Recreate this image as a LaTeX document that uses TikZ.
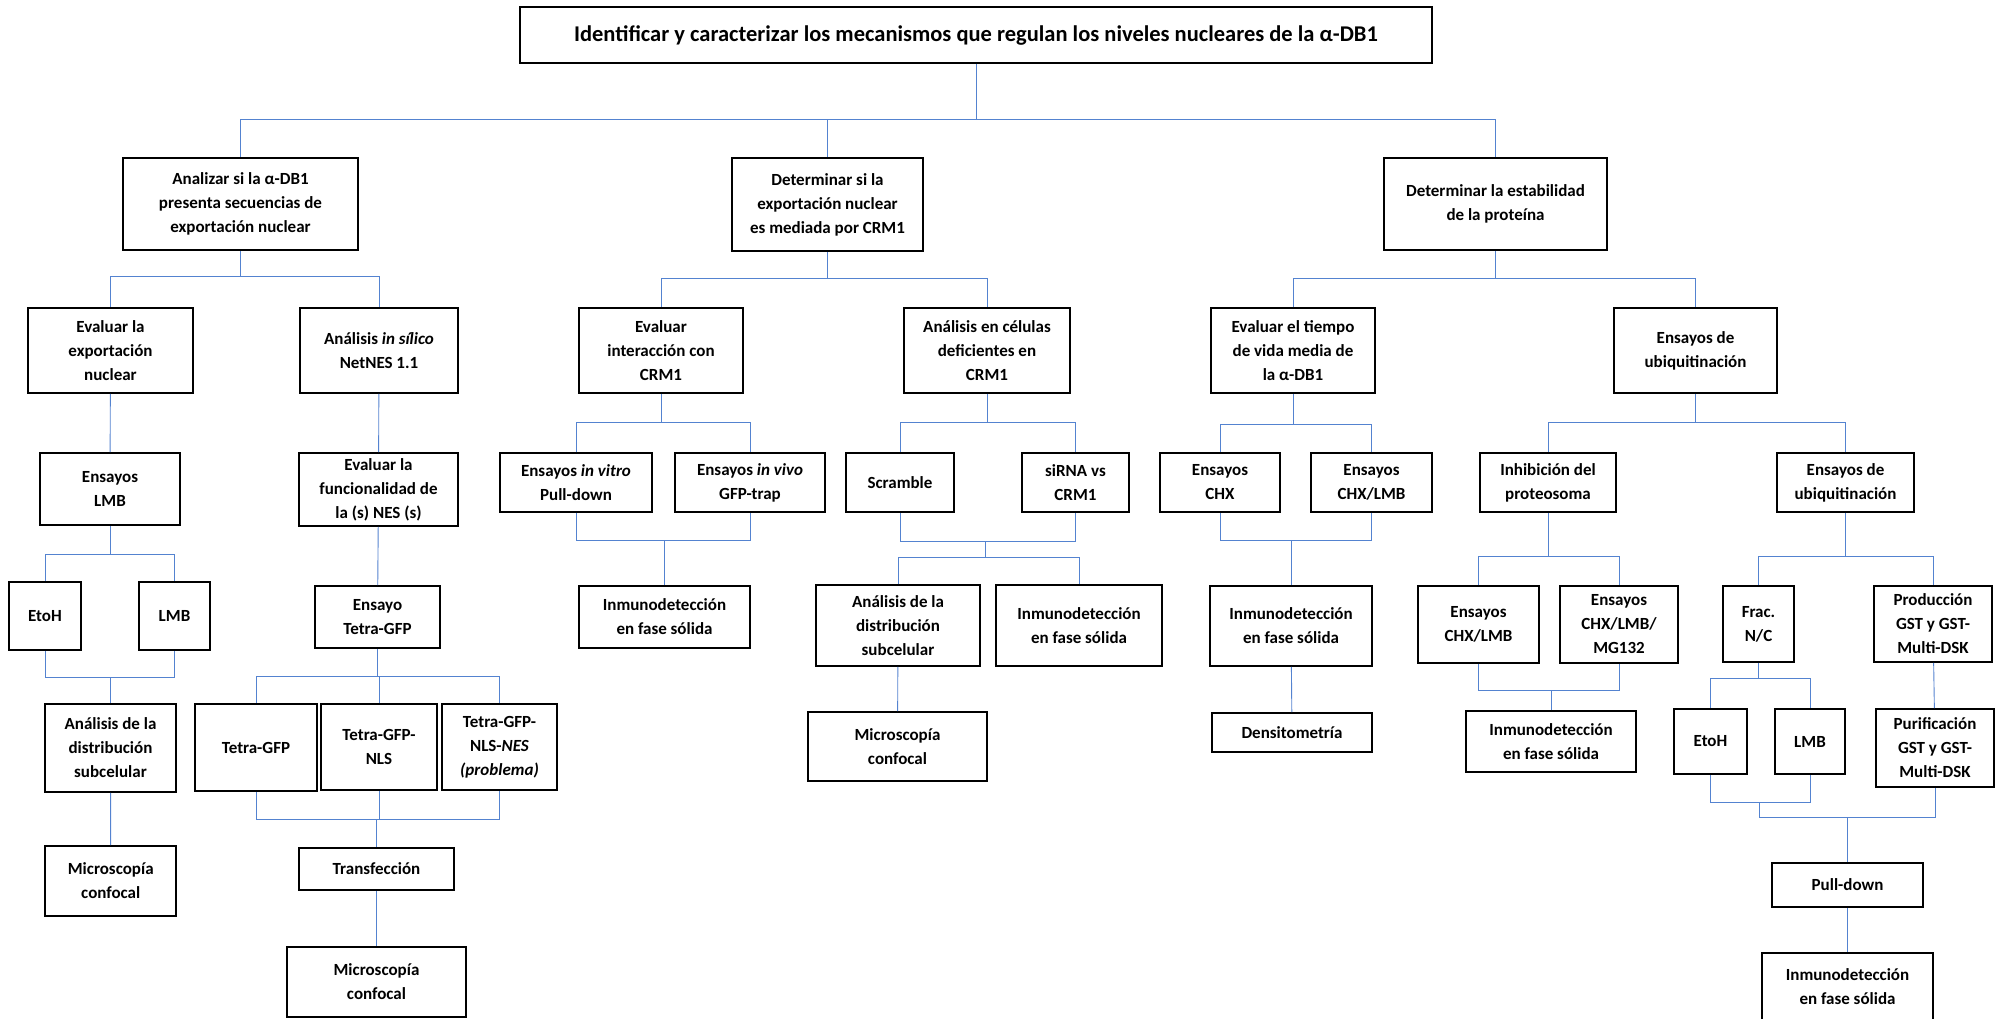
\documentclass[tikz,border=0pt]{standalone}
\usepackage{fontspec}
\setmainfont{Carlito}
\usepackage{tikz}
\usetikzlibrary{calc,positioning}
\definecolor{LineBlue}{RGB}{84,131,208}

\begin{document}
\begin{tikzpicture}[x=1pt,y=-1pt,
  caja/.style={draw=black,line width=1.8pt,fill=white,align=center,inner sep=1pt,font=\fontsize{17}{24}\selectfont\bfseries},
  linea/.style={draw=LineBlue,line width=0.9pt}]
\useasboundingbox (0,0) rectangle (1999,1019);
% objetivo general
\node[caja,minimum width=912,minimum height=56,font=\fontsize{22.5}{26}\selectfont\bfseries] (obj) at (976,35) {Identificar y caracterizar los mecanismos que regulan los niveles nucleares de la α-DB1};
% objetivos especificos
\node[caja,minimum width=235,minimum height=92] (a1) at (240.5,204) {Analizar si la α-DB1\\presenta secuencias de\\exportación nuclear};
\node[caja,minimum width=191,minimum height=93] (a2) at (827.5,204.5) {Determinar si la\\exportación nuclear\\es mediada por CRM1};
\node[caja,minimum width=223,minimum height=92] (a3) at (1495.5,204) {Determinar la estabilidad\\de la proteína};
% segundo nivel
\node[caja,minimum width=165,minimum height=85] (b1) at (110.5,350.5) {Evaluar la\\exportación\\nuclear};
\node[caja,minimum width=158,minimum height=85] (b2) at (379,350.5) {Análisis \textit{in sílico}\\NetNES 1.1};
\node[caja,minimum width=164,minimum height=85] (b3) at (661,350.5) {Evaluar\\interacción con\\CRM1};
\node[caja,minimum width=166,minimum height=85] (b4) at (987,350.5) {Análisis en células\\deficientes en\\CRM1};
\node[caja,minimum width=164,minimum height=85] (b5) at (1293,350.5) {Evaluar el tiempo\\de vida media de\\la α-DB1};
\node[caja,minimum width=163,minimum height=85] (b6) at (1695.5,350.5) {Ensayos de\\ubiquitinación};
% ensayos
\node[caja,minimum width=140,minimum height=72] (c1) at (110,489) {Ensayos\\LMB};
\node[caja,minimum width=159,minimum height=73] (c2) at (378.5,489.5) {Evaluar la\\funcionalidad de\\la (s) NES (s)};
\node[caja,minimum width=152,minimum height=59] (c3) at (576,482.5) {Ensayos \textit{in vitro}\\Pull-down};
\node[caja,minimum width=150,minimum height=59] (c4) at (750,482.5) {Ensayos \textit{in vivo}\\GFP-trap};
\node[caja,minimum width=108,minimum height=59] (c5) at (900,482.5) {Scramble};
\node[caja,minimum width=107,minimum height=59] (c6) at (1075.5,482.5) {siRNA vs\\CRM1};
\node[caja,minimum width=120,minimum height=59] (c7) at (1220,482.5) {Ensayos\\CHX};
\node[caja,minimum width=121,minimum height=59] (c8) at (1371.5,482.5) {Ensayos\\CHX/LMB};
\node[caja,minimum width=136,minimum height=59] (c9) at (1548,482.5) {Inhibición del\\proteosoma};
\node[caja,minimum width=137,minimum height=59] (c10) at (1845.5,482.5) {Ensayos de\\ubiquitinación};
% tratamientos
\node[caja,minimum width=72,minimum height=68] (d1) at (45,616) {EtoH};
\node[caja,minimum width=71,minimum height=68] (d2) at (174.5,616) {LMB};
\node[caja,minimum width=125,minimum height=62] (d3) at (377.5,617) {Ensayo\\Tetra-GFP};
\node[caja,minimum width=171,minimum height=62] (d4) at (664.5,617) {Inmunodetección\\en fase sólida};
\node[caja,minimum width=164,minimum height=81] (d5) at (898,625.5) {Análisis de la\\distribución\\subcelular};
\node[caja,minimum width=166,minimum height=81] (d6) at (1079,625.5) {Inmunodetección\\en fase sólida};
\node[caja,minimum width=162,minimum height=80] (d7) at (1291,626) {Inmunodetección\\en fase sólida};
\node[caja,minimum width=121,minimum height=77] (d8) at (1478.5,624.5) {Ensayos\\CHX/LMB};
\node[caja,minimum width=118,minimum height=77] (d9) at (1619,624.5) {Ensayos\\CHX/LMB/\\MG132};
\node[caja,minimum width=71,minimum height=76] (d10) at (1758.5,624) {Frac.\\N/C};
\node[caja,minimum width=118,minimum height=76] (d11) at (1933,624) {Producción\\GST y GST-\\Multi-DSK};
% analisis
\node[caja,minimum width=131,minimum height=88] (e1) at (110.5,748) {Análisis de la\\distribución\\subcelular};
\node[caja,minimum width=122,minimum height=87] (e2) at (256,747.5) {Tetra-GFP};
\node[caja,minimum width=116,minimum height=86] (e3) at (379,747) {Tetra-GFP-\\NLS};
\node[caja,minimum width=115,minimum height=86] (e4) at (499.5,747) {Tetra-GFP-\\NLS-\textit{NES}\\\textit{(problema)}};
\node[caja,minimum width=179,minimum height=69] (e5) at (897.5,746.5) {Microscopía\\confocal};
\node[caja,minimum width=160,minimum height=39] (e7) at (1292,732.5) {Densitometría};
\node[caja,minimum width=170,minimum height=61] (e8) at (1551,741.5) {Inmunodetección\\en fase sólida};
\node[caja,minimum width=73,minimum height=65] (e9) at (1710.5,741.5) {EtoH};
\node[caja,minimum width=70,minimum height=65] (e10) at (1810,741.5) {LMB};
\node[caja,minimum width=118,minimum height=78] (e11) at (1935,748) {Purificación\\GST y GST-\\Multi-DSK};
% ultimo nivel
\node[caja,minimum width=131,minimum height=70] (f1) at (110.75,881) {Microscopía\\confocal};
\node[caja,minimum width=155,minimum height=42] (f2) at (376.5,869) {Transfección};
\node[caja,minimum width=151,minimum height=44] (f3) at (1847.5,885) {Pull-down};
\node[caja,minimum width=179,minimum height=70] (g2) at (376.5,982) {Microscopía\\confocal};
\node[caja,minimum width=171,minimum height=68] (g3) at (1847.5,987) {Inmunodetección\\en fase sólida};
% conexiones
\draw[linea] (obj.south) -- (obj.south |- 0,119);
\draw[linea] (a1.north) |- (a3.north |- 0,119) -- (a3.north);
\draw[linea] (a2.north) -- (a2.north |- 0,119);
\draw[linea] (a1.south) -- (a1.south |- 0,276);
\draw[linea] (b1.north) |- (b2.north |- 0,276) -- (b2.north);
\draw[linea] (a2.south) -- (a2.south |- 0,278);
\draw[linea] (b3.north) |- (b4.north |- 0,278) -- (b4.north);
\draw[linea] (a3.south) -- (a3.south |- 0,278);
\draw[linea] (b5.north) |- (b6.north |- 0,278) -- (b6.north);
\draw[linea] (b1) -- (c1);
\draw[linea] (b2) -- (c2);
\draw[linea] (b3.south) -- (b3.south |- 0,422);
\draw[linea] (c3.north) |- (c4.north |- 0,422) -- (c4.north);
\draw[linea] (b4.south) -- (b4.south |- 0,422);
\draw[linea] (c5.north) |- (c6.north |- 0,422) -- (c6.north);
\draw[linea] (b5.south) -- (b5.south |- 0,424);
\draw[linea] (c7.north) |- (c8.north |- 0,424) -- (c8.north);
\draw[linea] (b6.south) -- (b6.south |- 0,422);
\draw[linea] (c9.north) |- (c10.north |- 0,422) -- (c10.north);
% izquierda
\draw[linea] (c1.south) -- (c1.south |- 0,554);
\draw[linea] (d1.north) |- (d2.north |- 0,554) -- (d2.north);
\draw[linea] (d1.south) |- (d2.south |- 0,677) -- (d2.south);
\draw[linea] (e1.north) -- (e1.north |- 0,677);
\draw[linea] (e1) -- (f1);
\draw[linea] (c2) -- (d3);
\draw[linea] (d3.south) -- (d3.south |- 0,676);
\draw[linea] (e2.north) |- (e4.north |- 0,676) -- (e4.north);
\draw[linea] (e3.north) -- (e3.north |- 0,676);
\draw[linea] (e2.south) |- (e4.south |- 0,819) -- (e4.south);
\draw[linea] (e3.south) -- (e3.south |- 0,819);
\draw[linea] (f2.north) -- (f2.north |- 0,819);
\draw[linea] (f2) -- (g2);
% centro
\draw[linea] (c3.south) |- (c4.south |- 0,540) -- (c4.south);
\draw[linea] (d4.north) -- (d4.north |- 0,540);
\coordinate (m56) at (985,541);
\draw[linea] (c5.south) |- (c6.south |- 0,541) -- (c6.south);
\draw[linea] (m56) -- (m56 |- 0,557);
\draw[linea] (d5.north) |- (d6.north |- 0,557) -- (d6.north);
\draw[linea] (d5) -- (e5);
% derecha
\draw[linea] (c7.south) |- (c8.south |- 0,540) -- (c8.south);
\draw[linea] (d7.north) -- (d7.north |- 0,540);
\draw[linea] (d7) -- (e7);
\draw[linea] (c9.south) -- (c9.south |- 0,556);
\draw[linea] (d8.north) |- (d9.north |- 0,556) -- (d9.north);
\draw[linea] (d8.south) |- (d9.south |- 0,690) -- (d9.south);
\draw[linea] (e8.north) -- (e8.north |- 0,690);
\draw[linea] (c10.south) -- (c10.south |- 0,556);
\draw[linea] (d10.north) |- (d11.north |- 0,556) -- (d11.north);
\draw[linea] (d10.south) -- (d10.south |- 0,678);
\draw[linea] (e9.north) |- (e10.north |- 0,678) -- (e10.north);
\draw[linea] (d11) -- (e11);
\coordinate (m910) at (1759,802);
\draw[linea] (e9.south) |- (e10.south |- 0,802) -- (e10.south);
\draw[linea] (m910) |- (e11.south |- 0,817) -- (e11.south);
\draw[linea] (f3.north) -- (f3.north |- 0,817);
\draw[linea] (f3) -- (g3);
\end{tikzpicture}
\end{document}
